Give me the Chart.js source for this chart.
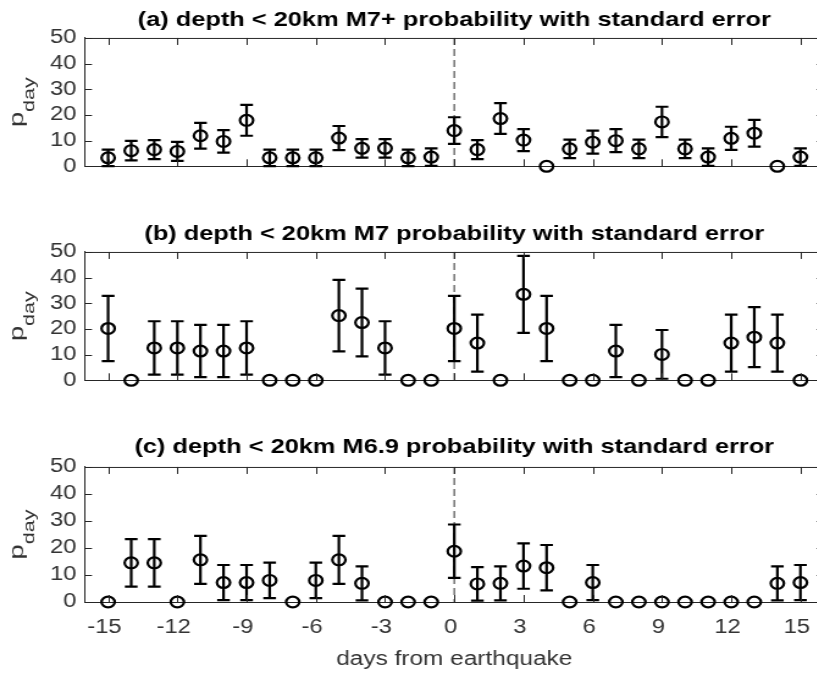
<!DOCTYPE html>
<html>
<head>
<meta charset="utf-8">
<script src="https://cdn.jsdelivr.net/npm/chart.js@4.4.1/dist/chart.umd.min.js"></script>
<style>
  html, body { margin: 0; padding: 0; background: #fff; overflow: hidden; width: 817px; height: 675px; }
  canvas { position: absolute; left: 0; }
</style>
</head>
<body>
<canvas id="panelA" width="689" height="185"></canvas>
<canvas id="panelB" width="689" height="185"></canvas>
<canvas id="panelC" width="689" height="246"></canvas>
<script>
// days around the earthquake
var days = [-15, -14, -13, -12, -11, -10, -9, -8, -7, -6, -5, -4, -3, -2, -1,
            0, 1, 2, 3, 4, 5, 6, 7, 8, 9, 10, 11, 12, 13, 14, 15];
var xTickValues = [-15, -12, -9, -6, -3, 0, 3, 6, 9, 12, 15];
var yTickValues = [0, 10, 20, 30, 40, 50];

// (a) M7+
var probA = [3.3, 6.1, 6.5, 5.8, 11.9, 9.7, 17.9, 3.3, 3.3, 3.3, 11.0, 7.0, 7.0, 3.3, 3.6,
             13.9, 6.5, 18.6, 10.2, 0, 6.8, 9.4, 10.0, 6.8, 17.3, 6.8, 3.6, 10.9, 12.9, 0, 3.6];
var errA  = [3.2, 3.8, 3.7, 3.7, 5.0, 4.4, 6.0, 3.2, 3.2, 3.2, 4.7, 3.6, 3.6, 3.2, 3.4,
             5.2, 3.7, 6.0, 4.3, 0, 3.6, 4.5, 4.5, 3.6, 5.9, 3.6, 3.4, 4.5, 5.2, 0, 3.4];

// (b) M7
var probB = [20.2, 0, 12.6, 12.6, 11.4, 11.4, 12.6, 0, 0, 0, 25.2, 22.5, 12.6, 0, 0,
             20.2, 14.5, 0, 33.5, 20.2, 0, 0, 11.4, 0, 10.1, 0, 0, 14.5, 16.8, 14.5, 0];
var errB  = [12.7, 0, 10.4, 10.4, 10.2, 10.2, 10.4, 0, 0, 0, 13.9, 13.2, 10.4, 0, 0,
             12.7, 11.1, 0, 15.0, 12.7, 0, 0, 10.2, 0, 9.5, 0, 0, 11.1, 11.7, 11.1, 0];

// (c) M6.9
var probC = [0, 14.5, 14.5, 0, 15.6, 7.2, 7.2, 8.0, 0, 8.0, 15.6, 6.9, 0, 0, 0,
             18.8, 6.7, 6.9, 13.3, 12.7, 0, 7.2, 0, 0, 0, 0, 0, 0, 0, 6.9, 7.2];
var errC  = [0, 8.8, 8.8, 0, 8.9, 6.5, 6.5, 6.6, 0, 6.6, 8.9, 6.3, 0, 0, 0,
             9.9, 6.2, 6.3, 8.4, 8.4, 0, 6.5, 0, 0, 0, 0, 0, 0, 0, 6.3, 6.5];

var titles = [
  '(a) depth < 20km M7+ probability with standard error',
  '(b) depth < 20km M7 probability with standard error',
  '(c) depth < 20km M6.9 probability with standard error'
];

// the picture is drawn a bit wide, so canvases get stretched sideways
var STRETCH = 1.22;
var FONT = "'Liberation Sans', Arial, sans-serif";
var AXIS_COLOR = '#262626';
var TEXT_COLOR = '#333333';

// zero line, error bars, box, inward ticks, y label
var panelDecor = {
  id: 'panelDecor',
  beforeDatasetsDraw: function(chart) {
    var ctx = chart.ctx, x = chart.scales.x, y = chart.scales.y, area = chart.chartArea;
    ctx.save();
    ctx.strokeStyle = '#5e5e5e';
    ctx.lineWidth = 1.3;
    ctx.setLineDash([7, 4]);
    ctx.beginPath();
    ctx.moveTo(x.getPixelForValue(0), area.top);
    ctx.lineTo(x.getPixelForValue(0), area.bottom);
    ctx.stroke();
    ctx.setLineDash([]);

    var ds = chart.data.datasets[0];
    ctx.strokeStyle = '#000';
    ctx.lineWidth = 2.2;
    ds.data.forEach(function(pt, i) {
      var e = ds.errors[i];
      if (!e) return;
      var px = x.getPixelForValue(pt.x);
      var top = y.getPixelForValue(pt.y + e);
      var bot = y.getPixelForValue(pt.y - e);
      var cap = 5.2;
      ctx.beginPath();
      ctx.moveTo(px, top); ctx.lineTo(px, bot);
      ctx.moveTo(px - cap, top); ctx.lineTo(px + cap, top);
      ctx.moveTo(px - cap, bot); ctx.lineTo(px + cap, bot);
      ctx.stroke();
    });
    ctx.restore();
  },
  afterDraw: function(chart) {
    var ctx = chart.ctx, x = chart.scales.x, y = chart.scales.y, area = chart.chartArea;
    ctx.save();
    ctx.strokeStyle = AXIS_COLOR;
    ctx.lineWidth = 1;
    ctx.beginPath();
    ctx.moveTo(area.left, area.top + 0.5); ctx.lineTo(area.right, area.top + 0.5);
    ctx.moveTo(area.right - 0.5, area.top); ctx.lineTo(area.right - 0.5, area.bottom);
    x.ticks.forEach(function(t) {
      var px = Math.round(x.getPixelForValue(t.value)) + 0.5;
      ctx.moveTo(px, area.bottom); ctx.lineTo(px, area.bottom - 7);
      ctx.moveTo(px, area.top); ctx.lineTo(px, area.top + 7);
    });
    y.ticks.forEach(function(t) {
      var py = Math.round(y.getPixelForValue(t.value)) + 0.5;
      ctx.moveTo(area.left, py); ctx.lineTo(area.left + 5.7, py);
      ctx.moveTo(area.right, py); ctx.lineTo(area.right - 5.7, py);
    });
    ctx.stroke();

    // y label: p with subscript "day", rotated
    var along = 1.6;
    var cy = (area.top + area.bottom) / 2;
    ctx.fillStyle = TEXT_COLOR;
    ctx.textBaseline = 'alphabetic';
    ctx.textAlign = 'left';
    ctx.translate(18.8, cy);
    ctx.rotate(-Math.PI / 2);
    ctx.scale(along, 1);
    ctx.font = '17px ' + FONT;
    var wp = ctx.measureText('p').width;
    ctx.font = '13.5px ' + FONT;
    var wd = ctx.measureText('day').width;
    var start = -(wp + wd) / 2;
    ctx.font = '17px ' + FONT;
    ctx.fillText('p', start, 0);
    ctx.font = '13.5px ' + FONT;
    ctx.fillText('day', start + wp, 9.5);
    ctx.restore();
  }
};

function makePanel(id, top, title, values, errors, showX, titlePad) {
  var canvas = document.getElementById(id);
  canvas.style.top = top + 'px';
  canvas.style.width = (canvas.width * STRETCH) + 'px';
  canvas.style.height = canvas.height + 'px';

  var points = days.map(function(d, i) { return { x: d, y: values[i] }; });

  return new Chart(canvas, {
    type: 'scatter',
    data: {
      datasets: [{
        data: points,
        errors: errors,
        pointStyle: 'circle',
        pointRadius: 5.4,
        pointHoverRadius: 5.4,
        borderColor: '#000',
        backgroundColor: 'rgba(0,0,0,0)',
        pointBorderWidth: 2.2,
        borderWidth: 2.2,
        showLine: false,
        clip: false
      }]
    },
    options: {
      responsive: false,
      animation: false,
      devicePixelRatio: 1,
      events: [],
      layout: { padding: { left: 0, right: 14.33, top: 0, bottom: 0 } },
      plugins: {
        legend: { display: false },
        tooltip: { enabled: false },
        title: {
          display: true,
          text: title,
          fullSize: false,
          color: '#000',
          font: { family: FONT, size: 20.8, weight: 'bold' },
          padding: titlePad
        }
      },
      scales: {
        x: {
          type: 'linear',
          min: -16,
          max: 16,
          afterBuildTicks: function(s) { s.ticks = xTickValues.map(function(v) { return { value: v }; }); },
          afterFit: function(s) { s.height = showX ? 73 : 12; },
          ticks: {
            display: showX,
            autoSkip: false,
            maxRotation: 0,
            padding: 13.5,
            labelOffset: -3,
            color: TEXT_COLOR,
            font: { family: FONT, size: 19.5 }
          },
          grid: { display: true, drawOnChartArea: false, drawTicks: false },
          border: { display: true, color: AXIS_COLOR, width: 1 },
          title: {
            display: showX,
            text: 'days from earthquake',
            color: TEXT_COLOR,
            font: { family: FONT, size: 20 },
            padding: { top: 0, bottom: 4 }
          }
        },
        y: {
          min: 0,
          max: 50,
          afterBuildTicks: function(s) { s.ticks = yTickValues.map(function(v) { return { value: v }; }); },
          afterFit: function(s) { s.width = 69.67; },
          ticks: {
            autoSkip: false,
            padding: 7,
            color: TEXT_COLOR,
            font: { family: FONT, size: 19.5 }
          },
          grid: { display: true, drawOnChartArea: false, drawTicks: false },
          border: { display: true, color: AXIS_COLOR, width: 1 }
        }
      }
    },
    plugins: [panelDecor]
  });
}

makePanel('panelA', 0, titles[0], probA, errA, false, { top: 8, bottom: 5 });
makePanel('panelB', 214, titles[1], probB, errB, false, { top: 8, bottom: 5 });
makePanel('panelC', 429, titles[2], probC, errC, true, { top: 5.5, bottom: 7.5 });
</script>
</body>
</html>
